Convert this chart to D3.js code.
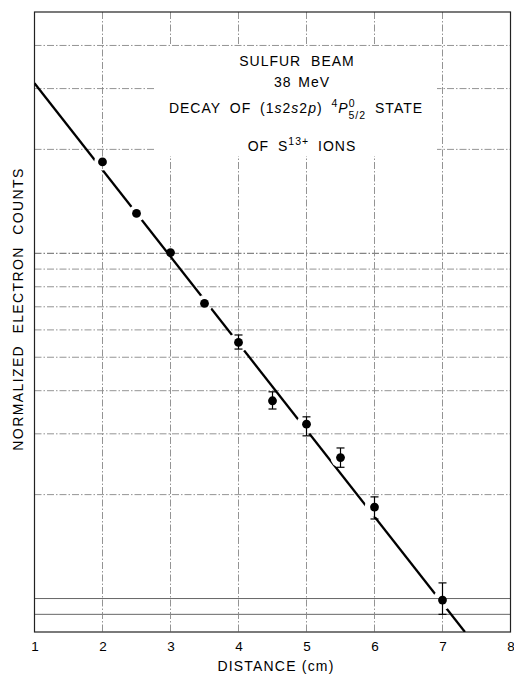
<!DOCTYPE html>
<html>
<head>
<meta charset="utf-8">
<script src="https://cdn.jsdelivr.net/npm/d3@7"></script>
<style>
  body { margin: 0; background: #fff; }
  svg { display: block; font-family: "Liberation Sans", Arial, sans-serif; }
</style>
</head>
<body>
<div id="chart"></div>
<script>
// Measured points (distance in cm, normalized counts)
const distance = [2, 2.5, 3, 3.5, 4, 4.5, 5, 5.5, 6, 7];
const counts   = [18.4, 13.05, 10.05, 7.16, 5.52, 3.74, 3.2, 2.56, 1.84, 0.99];
const errHigh  = [null, null, null, null, 5.8, 3.97, 3.36, 2.73, 1.97, 1.11];
const errLow   = [null, null, null, null, 5.28, 3.54, 2.96, 2.4, 1.7, 0.9];

// Fitted exponential decay (straight line on the log axis)
const fitX = [1, 7.33];
const fitY = [31.1, 0.8];

// Line is broken around these points
const gapAt = [2, 2.5, 3.5, 4, 5, 5.5, 6, 7];

const xTicks = [1, 2, 3, 4, 5, 6, 7, 8];
const yGrid = [0.9, 1, 2, 3, 4, 5, 6, 7, 8, 9, 10, 20, 30, 40];

const W = 514, H = 679;
const plotL = 34.5, plotR = 510.5, plotT = 12, plotB = 632;

const svg = d3.select('#chart').append('svg')
    .attr('width', W)
    .attr('height', H);

const x = d3.scaleLinear().domain([1, 8]).range([plotL, plotR]);
const y = d3.scaleLog().domain([0.8, 50]).range([plotB, plotT]);

// grid
const grid = svg.append('g');
grid.selectAll('.hgrid')
    .data(yGrid)
    .enter().append('line')
    .attr('x1', plotL).attr('x2', plotR)
    .attr('y1', d => y(d)).attr('y2', d => y(d))
    .attr('stroke', d => (d === 1 || d === 10 || d === 0.9) ? '#555' : '#888')
    .attr('stroke-width', 0.9)
    .attr('stroke-dasharray', d => (d === 1 || d === 0.9) ? null : '7,2,1.5,2');

grid.selectAll('.vgrid')
    .data(xTicks.slice(1, -1))
    .enter().append('line')
    .attr('x1', d => x(d)).attr('x2', d => x(d))
    .attr('y1', plotT).attr('y2', plotB)
    .attr('stroke', '#888')
    .attr('stroke-width', 0.9)
    .attr('stroke-dasharray', '7,2,1.5,2');

// white box behind the annotation
svg.append('rect')
    .attr('x', 155).attr('y', 46)
    .attr('width', 282).attr('height', 110)
    .attr('fill', '#fff');

// frame
svg.append('rect')
    .attr('x', plotL).attr('y', plotT)
    .attr('width', plotR - plotL).attr('height', plotB - plotT)
    .attr('fill', 'none')
    .attr('stroke', '#222')
    .attr('stroke-width', 1.2);

// x axis labels
svg.append('g')
    .attr('transform', `translate(0,${plotB})`)
    .call(d3.axisBottom(x).tickValues(xTicks).tickSize(0).tickPadding(9).tickFormat(d3.format('d')))
    .call(g => g.select('.domain').remove())
    .call(g => g.selectAll('text')
        .attr('font-size', 13.5)
        .attr('fill', '#000')
        .attr('font-family', '"Liberation Sans", Arial, sans-serif'));

svg.append('text')
    .attr('x', 276).attr('y', 671)
    .attr('text-anchor', 'middle')
    .attr('font-size', 14)
    .attr('letter-spacing', 1.2)
    .attr('fill', '#000')
    .text('DISTANCE (cm)');

svg.append('text')
    .attr('transform', 'translate(23,309) rotate(-90)')
    .attr('text-anchor', 'middle')
    .attr('font-size', 14)
    .attr('letter-spacing', 1.4)
    .attr('word-spacing', 6)
    .attr('fill', '#000')
    .text('NORMALIZED ELECTRON COUNTS');

// clip + gap mask for the fit line
const defs = svg.append('defs');
defs.append('clipPath').attr('id', 'plot')
    .append('rect')
    .attr('x', plotL).attr('y', plotT)
    .attr('width', plotR - plotL).attr('height', plotB - plotT);

const mask = defs.append('mask').attr('id', 'gaps')
    .attr('maskUnits', 'userSpaceOnUse')
    .attr('x', 0).attr('y', 0).attr('width', W).attr('height', H);
mask.append('rect').attr('width', W).attr('height', H).attr('fill', '#fff');
mask.selectAll('circle')
    .data(distance.map((d, i) => ({ x: d, y: counts[i], err: errHigh[i] !== null }))
        .filter(d => gapAt.includes(d.x)))
    .enter().append('circle')
    .attr('cx', d => x(d.x))
    .attr('cy', d => y(d.y))
    .attr('r', d => d.err ? 10 : 8.5)
    .attr('fill', '#000');

const fitLine = d3.line()
    .x(d => x(d[0]))
    .y(d => y(d[1]));

svg.append('g')
    .attr('clip-path', 'url(#plot)')
    .append('path')
    .datum(fitX.map((d, i) => [d, fitY[i]]))
    .attr('d', fitLine)
    .attr('mask', 'url(#gaps)')
    .attr('fill', 'none')
    .attr('stroke', '#000')
    .attr('stroke-width', 2.3);

// error bars
const pts = distance.map((d, i) => ({ x: d, y: counts[i], hi: errHigh[i], lo: errLow[i] }));
const bars = svg.append('g').selectAll('g')
    .data(pts.filter(d => d.hi !== null))
    .enter().append('g')
    .attr('stroke', '#000')
    .attr('stroke-width', 1.2);
bars.append('line')
    .attr('x1', d => x(d.x)).attr('x2', d => x(d.x))
    .attr('y1', d => y(d.hi)).attr('y2', d => y(d.lo));
bars.append('line')
    .attr('x1', d => x(d.x) - 4).attr('x2', d => x(d.x) + 4)
    .attr('y1', d => y(d.hi)).attr('y2', d => y(d.hi));
bars.append('line')
    .attr('x1', d => x(d.x) - 4).attr('x2', d => x(d.x) + 4)
    .attr('y1', d => y(d.lo)).attr('y2', d => y(d.lo));

// points
svg.append('g').selectAll('circle')
    .data(pts)
    .enter().append('circle')
    .attr('cx', d => x(d.x))
    .attr('cy', d => y(d.y))
    .attr('r', 4.4)
    .attr('fill', '#000');

// annotation
const note = svg.append('g')
    .attr('font-size', 14)
    .attr('fill', '#000')
    .attr('text-anchor', 'middle')
    .attr('letter-spacing', 1);

note.append('text').attr('x', 297).attr('y', 66).attr('word-spacing', 5).text('SULFUR BEAM');
note.append('text').attr('x', 302).attr('y', 87).attr('word-spacing', 2).text('38 MeV');

const decay = note.append('text').attr('x', 296).attr('y', 113).attr('word-spacing', 4);
decay.append('tspan').text('DECAY OF (1');
decay.append('tspan').attr('font-style', 'italic').text('s');
decay.append('tspan').text('2');
decay.append('tspan').attr('font-style', 'italic').text('s');
decay.append('tspan').text('2');
decay.append('tspan').attr('font-style', 'italic').text('p');
decay.append('tspan').text(') ');
decay.append('tspan').attr('font-size', 10.5).attr('dy', -6).text('4');
decay.append('tspan').attr('font-style', 'italic').attr('dy', 6).text('P');
decay.append('tspan').attr('font-size', 10.5).attr('dy', -6).text('0');
decay.append('tspan').attr('font-size', 10.5).attr('dx', -7).attr('dy', 12).text('5/2');
decay.append('tspan').attr('dy', -6).text(' STATE');

const ions = note.append('text').attr('x', 302).attr('y', 151).attr('word-spacing', 4);
ions.append('tspan').text('OF S');
ions.append('tspan').attr('font-size', 10.5).attr('dy', -6).text('13+');
ions.append('tspan').attr('dy', 6).text(' IONS');
</script>
</body>
</html>
